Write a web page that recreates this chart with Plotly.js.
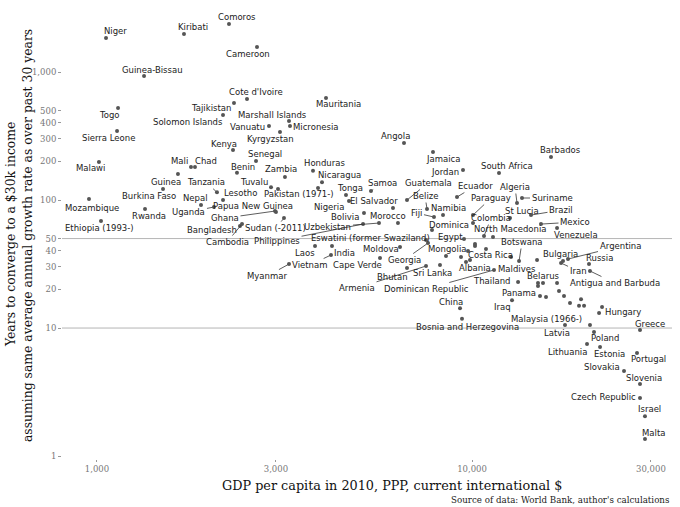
<!DOCTYPE html>
<html>
<head>
<meta charset="utf-8">
<script src="https://cdn.plot.ly/plotly-3.0.1.min.js"></script>
<style>html,body{margin:0;padding:0;background:#fff;}#chart{width:680px;height:507px;}</style>
</head>
<body>
<div id="chart"></div>
<script>
// ---- data ----
const countries = [
"Niger","Kiribati","Comoros","Cameroon","Guinea-Bissau","Cote d'Ivoire","Mauritania","Togo","Tajikistan","Solomon Islands",
"Marshall Islands","Micronesia","Vanuatu","Sierra Leone","Kyrgyzstan","Kenya","Senegal","Malawi","Mali","Chad",
"Benin","Zambia","Honduras","Nicaragua","Guinea","Tanzania","Tuvalu","Lesotho","Pakistan (1971-)","Burkina Faso",
"Nepal","Mozambique","Uganda","Papua New Guinea","Rwanda","Ghana","Ethiopia (1993-)","Bangladesh","Cambodia","Sudan (-2011)",
"Philippines","Uzbekistan","Eswatini (former Swaziland)","Georgia","Laos","India","Myanmar","Vietnam","Cape Verde","Moldova",
"Bhutan","Armenia","Sri Lanka","Dominican Republic","Mongolia","Costa Rica","Albania","Maldives","Botswana","Thailand",
"Belarus","Panama","Iraq","China","Bosnia and Herzegovina","Malaysia (1966-)","Latvia","Poland","Lithuania","Estonia",
"Greece","Portugal","Slovakia","Slovenia","Czech Republic","Israel","Malta","Hungary","Argentina","Bulgaria",
"Iran","Russia","Antigua and Barbuda","Mexico","Venezuela","Brazil","St Lucia","Suriname","Algeria","Paraguay",
"Colombia","North Macedonia","Dominica","Egypt","Ecuador","South Africa","Jordan","Jamaica","Barbados","Angola",
"Guatemala","Belize","Fiji","Namibia","El Salvador","Morocco","Bolivia","Samoa","Tonga","Nigeria"
];
const gdpPerCapita = [
1057,1706,2249,2671,1335,2512,4080,1138,2319,2168,
3251,3271,2875,1131,3076,2305,2655,1012,1781,1825,
2362,3171,3767,3981,1644,2089,2911,2168,3039,1500,
1894,952,2051,3001,1343,2983,1025,2406,2436,3152,
5122,5649,7540,7633,3814,4233,3251,4207,5684,6427,
6709,7540,8215,11447,9757,12706,9878,14909,13349,13268,
14997,15182,12784,9290,9404,20636,17701,21150,20263,21950,
28054,27542,25431,28054,28054,28924,28924,21817,18030,17484,
17275,20512,20636,15276,16857,14366,12629,13594,13183,10062,
10765,11376,7822,9521,9120,11803,9462,7870,16243,6587,
6709,7586,7918,8370,6156,6347,5152,5378,4613,4699
];
const yearsToConverge = [
1845,1982,2371,1567,931,615,626,523,572,461,
414,378,378,346,340,246,202,198,181,181,
163,151,169,138,160,115,126,100,122,122,
91.4,102,88.2,80.6,85.1,82.0,68.5,62.6,64.9,72.3,
64.9,66.1,48.7,46.1,43.7,43.7,31.6,37.2,35.2,42.9,
29.4,30.5,31.1,28.4,40.0,35.9,34.0,34.0,33.4,22.9,
22.5,17.8,16.5,14.3,11.8,10.55,10.55,9.31,7.50,7.11,
9.64,6.38,4.61,3.65,2.84,2.05,1.36,13.1,34.6,33.4,
32.2,31.6,27.9,64.9,60.4,76.3,72.3,103.7,94.8,76.3,
52.3,51.4,58.3,49.6,105.5,162.6,171.6,237,216.8,278.7,
100,85.1,73.6,76.3,86.6,66.1,79.1,117.6,109.4,98.2
];
// countries drawn without a label
const unlabeledGdp   = [3885,10062,8525,9348,9638,10186,10186,10897,15464,14997,16857,15754,17061,17592,18252,19530,19290,19897,22220];
const unlabeledYears = [124,66.1,36.5,35.9,32.8,45.3,43.7,41.4,22.5,21.3,22.5,17.5,19.5,17.8,15.7,16.8,14.9,14.9,14.6];

const xTickVals = [1000,3000,10000,30000];
const xTickText = ["1,000","3,000","10,000","30,000"];
const yTickVals = [1,10,20,30,40,50,100,200,300,400,500,1000];
const yTickText = ["1","10","20","30","40","50","100","200","300","400","500","1,000"];
const refLines = [10,50];

const xTitle = "GDP per capita in 2010, PPP, current international $";
const yTitleLines = ["Years to converge to a $30k income",
                     "assuming same average annual growth rate as over past 30 years"];
const caption = "Source of data: World Bank, author's calculations";

// ---- label placement (pixel offsets of label centre from its point; 1 = leader line) ----
const labelPlacement = {
"Niger":[9,-7,0],"Kiribati":[9,-7,0],"Comoros":[8,-7,0],"Cameroon":[-9,7,0],"Guinea-Bissau":[8,-6,0],
"Cote d'Ivoire":[9,-7,0],"Mauritania":[12,6,0],"Togo":[-9,7,0],"Tajikistan":[-23,5,0],"Solomon Islands":[-35,7,0],
"Marshall Islands":[-17,-6,0],"Micronesia":[26,1,0],"Vanuatu":[-21,1,0],"Sierra Leone":[-9,7,0],"Kyrgyzstan":[-9,7,0],
"Kenya":[-9,-6,0],"Senegal":[9,-7,0],"Malawi":[-8,6,0],"Mali":[-11,-6,0],"Chad":[11,-6,0],
"Benin":[6,-6,0],"Zambia":[-4,-8,0],"Honduras":[11,-8,0],"Nicaragua":[17,-7,0],"Guinea":[-12,8,0],
"Tanzania":[-11,-10,1],"Tuvalu":[-17,-5,0],"Lesotho":[17,-7,0],"Pakistan (1971-)":[21,5,1],"Burkina Faso":[-14,7,0],
"Nepal":[-6,-7,0],"Mozambique":[3,9,0],"Uganda":[-25,5,1],"Papua New Guinea":[-23,-6,0],"Rwanda":[4,7,0],
"Ghana":[-50,7,1],"Ethiopia (1993-)":[-2,7,0],"Bangladesh":[-28,4,1],"Cambodia":[-15,18,1],"Sudan (-2011)":[-8,10,1],
"Philippines":[-86,17,1],"Uzbekistan":[-51,4,1],"Eswatini (former Swaziland)":[-56,-2,0],"Georgia":[-24,17,1],"Laos":[-10,7,0],
"India":[13,7,0],"Myanmar":[-22,12,1],"Vietnam":[-21,10,1],"Cape Verde":[-23,7,0],"Moldova":[-19,2,0],
"Bhutan":[-15,9,0],"Armenia":[-69,22,1],"Sri Lanka":[-7,8,0],"Dominican Republic":[-68,19,1],"Mongolia":[-21,-2,0],
"Costa Rica":[-21,-2,0],"Albania":[5,8,0],"Maldives":[-20,9,0],"Botswana":[3,-19,1],"Thailand":[-26,-1,0],
"Belarus":[5,-7,0],"Panama":[-21,-3,0],"Iraq":[-10,7,0],"China":[-9,-6,0],"Bosnia and Herzegovina":[5,8,0],
"Malaysia (1966-)":[-43,-6,0],"Latvia":[-8,8,0],"Poland":[11,6,0],"Lithuania":[-20,8,0],"Estonia":[9,7,0],
"Greece":[10,-6,0],"Portugal":[11,6,0],"Slovakia":[-22,-4,0],"Slovenia":[4,-6,0],"Czech Republic":[-37,-1,0],
"Israel":[5,-7,0],"Malta":[9,-6,0],"Hungary":[24,-1,0],"Argentina":[52,-13,1],"Bulgaria":[-3,-7,0],
"Iran":[17,8,1],"Russia":[10,-6,0],"Antigua and Barbuda":[25,12,1],"Mexico":[34,-2,1],"Venezuela":[19,7,0],
"Brazil":[30,-5,1],"St Lucia":[12,-7,0],"Suriname":[30,0,1],"Algeria":[-2,-16,1],"Paraguay":[18,-17,1],
"Colombia":[7,-18,1],"North Macedonia":[17,-8,0],"Dominica":[17,-5,0],"Egypt":[-14,-2,0],"Ecuador":[18,-11,1],
"South Africa":[8,-7,0],"Jordan":[-18,2,0],"Jamaica":[10,7,0],"Barbados":[9,-7,0],"Angola":[-9,-7,0],
"Guatemala":[21,-17,1],"Belize":[-2,-13,1],"Fiji":[-17,-4,1],"Namibia":[5,-7,0],"El Salvador":[-19,-7,0],
"Morocco":[-10,-7,0],"Bolivia":[-19,4,0],"Samoa":[12,-8,1],"Tonga":[4,-7,0],"Nigeria":[-20,6,0]
};

const serif = "DejaVu Serif, serif";
const sans = "DejaVu Sans, sans-serif";
const labelFont = {family: sans, size: 8.5, color: "#222"};
const titleFont = {family: serif, size: 12.4, color: "#111"};

const traces = [
  {type:"scatter", mode:"markers", x: unlabeledGdp, y: unlabeledYears,
   marker:{size:4, color:"#555"}, hoverinfo:"skip", showlegend:false},
  {type:"scatter", mode:"markers", x: gdpPerCapita, y: yearsToConverge, text: countries,
   marker:{size:4, color:"#555"}, hoverinfo:"text", showlegend:false}
];

const annotations = countries.map((name, i) => {
  const p = labelPlacement[name] || [0,-8,0];
  const base = {x: Math.log10(gdpPerCapita[i]), y: Math.log10(yearsToConverge[i]),
                xref:"x", yref:"y", text: name, font: labelFont};
  if (p[2]) {
    return Object.assign(base, {showarrow:true, ax:p[0], ay:p[1], arrowhead:0,
      arrowwidth:0.8, arrowcolor:"#333", standoff:1.5, startstandoff:0});
  }
  return Object.assign(base, {showarrow:false, xshift:p[0], yshift:-p[1]});
});
// axis titles and caption
annotations.push({xref:"paper", yref:"paper", x:0.541, y:-0.059, xanchor:"center", yanchor:"middle",
  showarrow:false, text:xTitle, font:{family:serif, size:12.8, color:"#111"}});
annotations.push({xref:"paper", yref:"paper", x:-0.0852, y:0.49, xanchor:"center", yanchor:"middle",
  textangle:-90, showarrow:false, text:yTitleLines[0], font:titleFont});
annotations.push({xref:"paper", yref:"paper", x:-0.0574, y:0.49, xanchor:"center", yanchor:"middle",
  textangle:-90, showarrow:false, text:yTitleLines[1], font:titleFont});
annotations.push({xref:"paper", yref:"paper", x:1, y:-0.09, xanchor:"right", yanchor:"middle",
  showarrow:false, text:caption, font:{family:serif, size:8.7, color:"#222"}});

const shapes = refLines.map(v => ({type:"line", xref:"paper", x0:0, x1:1, yref:"y",
  y0:v, y1:v, line:{color:"#b5b5b5", width:1}, layer:"below"}));

const layout = {
  width:680, height:507,
  margin:{l:62, r:8, t:2, b:48},
  paper_bgcolor:"#fff", plot_bgcolor:"#fff",
  showlegend:false,
  xaxis:{type:"log", range:[2.9067, 4.5333], tickvals:xTickVals, ticktext:xTickText,
    showgrid:false, zeroline:false, showline:false, ticks:"outside", ticklen:2, tickcolor:"#999",
    tickfont:{family:serif, size:8.5, color:"#777"}, automargin:false},
  yaxis:{type:"log", range:[-0.023, 3.547], tickvals:yTickVals, ticktext:yTickText,
    showgrid:false, zeroline:false, showline:false, ticks:"outside", ticklen:3, tickcolor:"#999",
    tickfont:{family:serif, size:8.5, color:"#777"}, automargin:false},
  annotations: annotations,
  shapes: shapes
};

Plotly.newPlot("chart", traces, layout, {displayModeBar:false, staticPlot:true});
</script>
</body>
</html>
